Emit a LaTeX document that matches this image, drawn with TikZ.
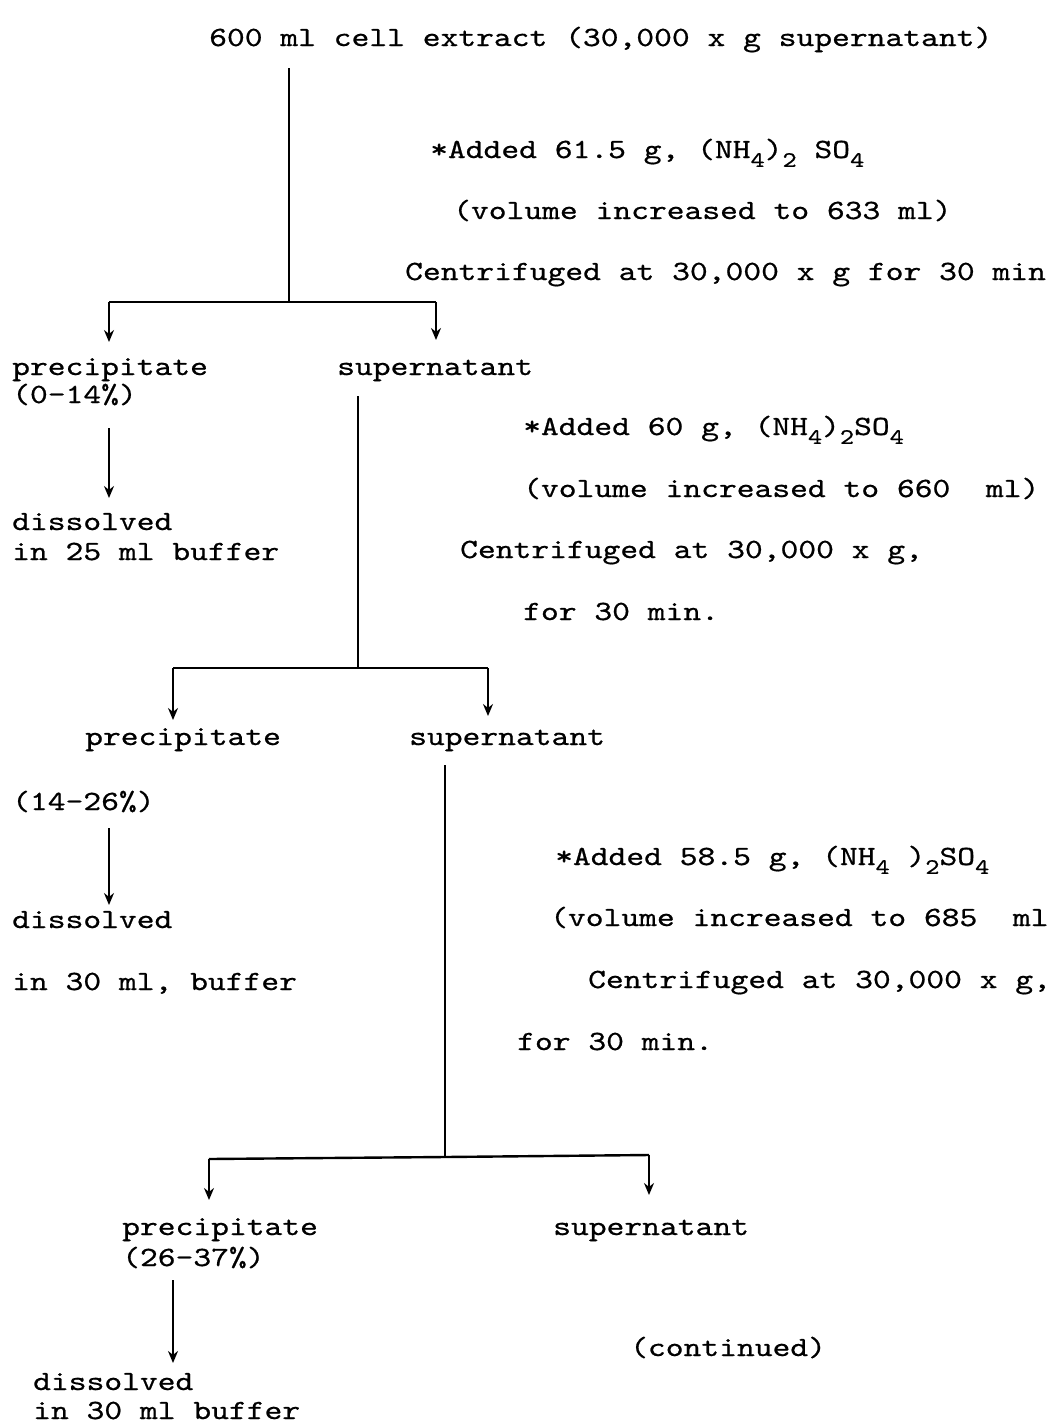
\documentclass[tikz,border=0pt]{standalone}
\usepackage{graphicx}
\usepackage{fontspec}
\newfontfamily\tw{lmmono10-regular.otf}[FakeBold=0.6]
\usetikzlibrary{arrows.meta}
\newcommand\sbs[1]{\raisebox{-0.32em}{\fontsize{27}{27}\selectfont #1}}
\newcommand\T[1]{\scalebox{1}[0.82]{#1}}
\begin{document}
\begin{tikzpicture}[x=1pt,y=-1pt,
  txt/.style={anchor=base west,inner sep=0pt,font=\tw\fontsize{33.9}{36}\selectfont},
  vline/.style={line width=1.7pt},
  hline/.style={line width=2.4pt},
  arr/.style={line width=1.7pt,-{Stealth[length=12pt,width=10pt]}}]
\useasboundingbox[fill=white] (0,0) rectangle (1057,1425);
% texts
\node[txt] (title) at (209,46) {\T{600 ml cell extract (30,000 x g supernatant)}};
\node[txt] (a1) at (430,158) {\T{*Added 61.5 g, (NH\sbs{4})\sbs{2} SO\sbs{4}}};
\node[txt] (v1) at (453,219) {\T{(volume increased to 633 ml)}};
\node[txt] (c1) at (405,280) {\T{Centrifuged at 30,000 x g for 30 min}};
\node[txt] (p1) at (12,375) {\T{precipitate}};
\node[txt] (r1) at (12,403) {\T{(0-14\%)}};
\node[txt] (s1) at (337,375) {\T{supernatant}};
\node[txt] (d1a) at (12,530) {\T{dissolved}};
\node[txt] (d1b) at (12,560) {\T{in 25 ml buffer}};
\node[txt] (a2) at (523,435) {\T{*Added 60 g, (NH\sbs{4})\sbs{2}SO\sbs{4}}};
\node[txt] (v2) at (523,497) {\T{(volume increased to 660~~ml)}};
\node[txt] (c2) at (460,558) {\T{Centrifuged at 30,000 x g,}};
\node[txt] (f2) at (523,620) {\T{for 30 min.}};
\node[txt] (p2) at (85,745) {\T{precipitate}};
\node[txt] (s2) at (409,745) {\T{supernatant}};
\node[txt] (r2) at (12,810) {\T{(14-26\%)}};
\node[txt] (d2a) at (12,928) {\T{dissolved}};
\node[txt] (d2b) at (12,990) {\T{in 30 ml, buffer}};
\node[txt] (a3) at (555,865) {\T{*Added 58.5 g, (NH\sbs{4} )\sbs{2}SO\sbs{4}}};
\node[txt] (v3) at (550,926) {\T{(volume increased to 685~~ml}};
\node[txt] (c3) at (588,988) {\T{Centrifuged at 30,000 x g,}};
\node[txt] (f3) at (517,1050) {\T{for 30 min.}};
\node[txt] (p3) at (122,1235) {\T{precipitate}};
\node[txt] (r3) at (122,1266) {\T{(26-37\%)}};
\node[txt] (s3) at (553,1235) {\T{supernatant}};
\node[txt] (co) at (630,1356) {\T{(continued)}};
\node[txt] (d3a) at (33,1390) {\T{dissolved}};
\node[txt] (d3b) at (33,1419) {\T{in 30 ml buffer}};
% branch 1
\coordinate (t0) at (289,68);
\coordinate (j1) at (289,302);
\coordinate (j1l) at (109,302);
\coordinate (j1r) at (436,302);
\coordinate (e1l) at (109,342);
\coordinate (e1r) at (436,340);
\draw[vline] (t0) -- (j1);
\draw[hline] (j1l) -- (j1r);
\draw[arr] (j1l) -- (e1l);
\draw[arr] (j1r) -- (e1r);
% precipitate 1 -> dissolved
\coordinate (q1s) at (109,428);
\coordinate (q1e) at (109,498);
\draw[arr] (q1s) -- (q1e);
% branch 2
\coordinate (t1) at (358,396);
\coordinate (j2) at (358,668);
\coordinate (j2l) at (173,668);
\coordinate (j2r) at (488,668);
\coordinate (e2l) at (173,720);
\coordinate (e2r) at (488,716);
\draw[vline] (t1) -- (j2);
\draw[hline] (j2l) -- (j2r);
\draw[arr] (j2l) -- (e2l);
\draw[arr] (j2r) -- (e2r);
% precipitate 2 -> dissolved
\coordinate (q2s) at (109,828);
\coordinate (q2e) at (109,905);
\draw[arr] (q2s) -- (q2e);
% branch 3
\coordinate (t2) at (445,765);
\coordinate (j3) at (445,1157);
\coordinate (j3l) at (209,1159);
\coordinate (j3r) at (649,1155);
\coordinate (e3l) at (209,1200);
\coordinate (e3r) at (649,1195);
\draw[vline] (t2) -- (j3);
\draw[hline] (j3l) -- (j3) -- (j3r);
\draw[arr] (j3l) -- (e3l);
\draw[arr] (j3r) -- (e3r);
% precipitate 3 -> dissolved
\coordinate (q3s) at (173,1280);
\coordinate (q3e) at (173,1363);
\draw[arr] (q3s) -- (q3e);
\end{tikzpicture}
\end{document}
